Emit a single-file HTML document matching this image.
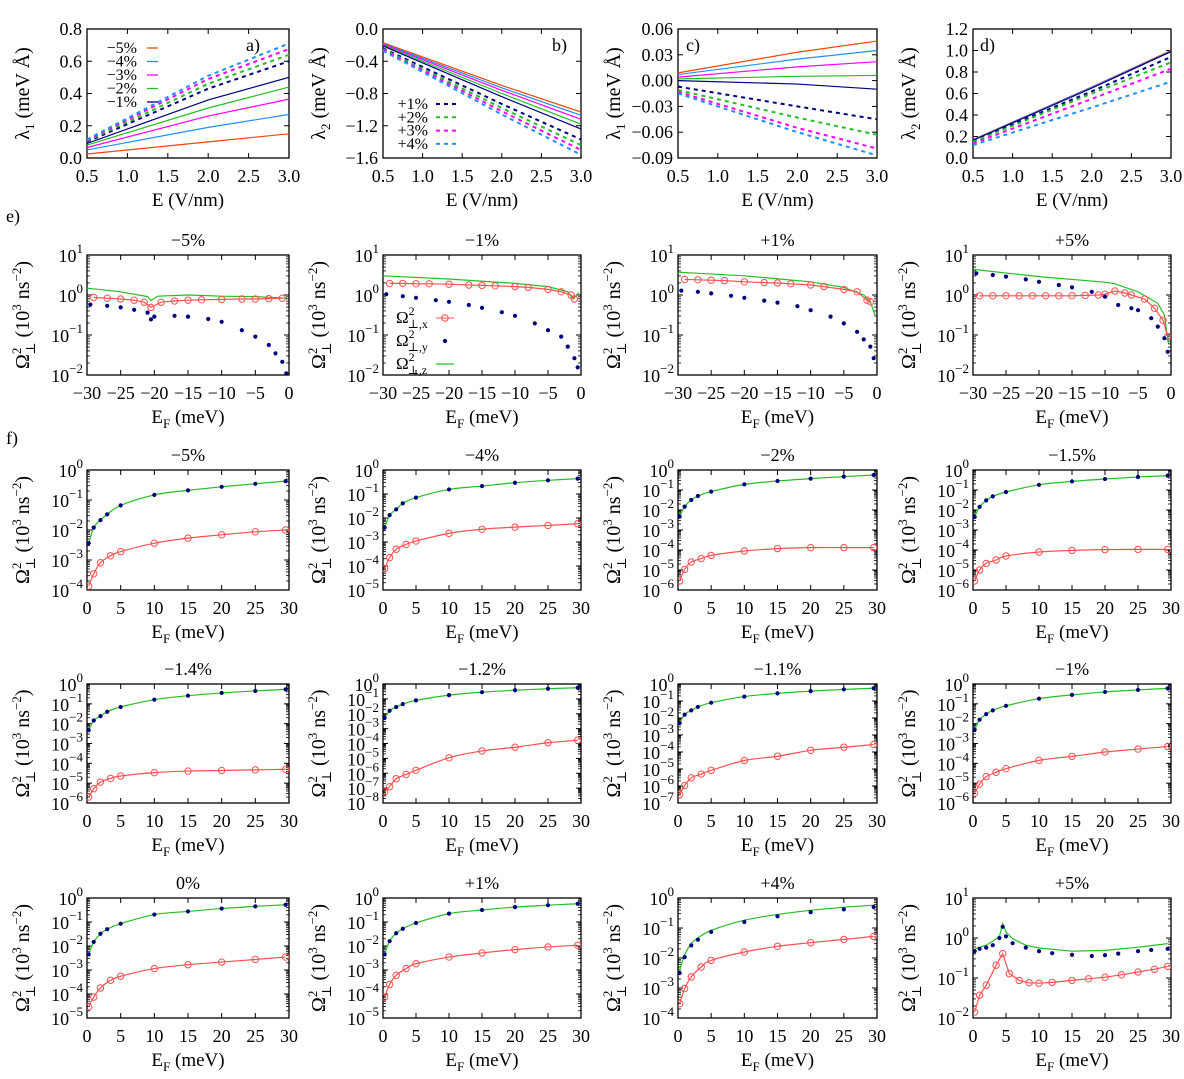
<!DOCTYPE html>
<html><head><meta charset="utf-8">
<style>
html,body{margin:0;padding:0;background:#fff;}
svg, svg text{font-family:"Liberation Serif","DejaVu Serif",serif;}
</style></head>
<body>
<svg id="fig" width="1184" height="1074" viewBox="0 0 1184 1074" xmlns="http://www.w3.org/2000/svg" font-family="Liberation Serif, serif">
<rect width="1184" height="1074" fill="#fff"/>
</svg>
<script>
// ---------- data: rows a-d ----------
const E_pts = [0.5, 2.0, 3.0];
const aSolid = [[0.025,0.10,0.15],[0.05,0.19,0.27],[0.065,0.26,0.365],[0.08,0.31,0.44],[0.09,0.36,0.50]];
const aDashed = [[0.10,0.43,0.60],[0.105,0.46,0.64],[0.11,0.49,0.675],[0.115,0.51,0.71]];
const bSolid = [[-0.17,-0.70,-1.03],[-0.18,-0.73,-1.07],[-0.19,-0.76,-1.12],[-0.20,-0.80,-1.18],[-0.21,-0.84,-1.24]];
const bDashed = [[-0.24,-0.93,-1.37],[-0.25,-0.98,-1.44],[-0.26,-1.02,-1.50],[-0.27,-1.06,-1.56]];
const cSolid = [[0.009,0.033,0.046],[0.007,0.025,0.035],[0.004,0.016,0.022],[0.002,0.005,0.006],[0.0,-0.004,-0.010]];
const cDashed = [[-0.007,-0.030,-0.045],[-0.011,-0.043,-0.063],[-0.013,-0.055,-0.079],[-0.015,-0.060,-0.087]];
const dSolid = [[0.17,0.66,1.0],[0.17,0.66,0.995],[0.168,0.655,0.993],[0.166,0.652,0.99],[0.165,0.65,0.99]];
const dDashed = [[0.16,0.62,0.94],[0.15,0.60,0.89],[0.135,0.55,0.83],[0.12,0.47,0.71]];
const solidLabels = ["\u22125%","\u22124%","\u22123%","\u22122%","\u22121%"];
const dashedLabels = ["+1%","+2%","+3%","+4%"];
const solidColors = ["#ff4500","#1e90ff","#ff00ff","#22c022","#000080"];
const dashedColors = ["#000080","#22c022","#ff00ff","#1e90ff"];

// ---------- data: row e (log10 values) ----------
const eM5_gx=[-30,-25,-21,-20.5,-19.5,-15,-10,-5,-0.3], eM5_g=[0.17,0.08,-0.04,-0.14,-0.03,0.0,-0.03,-0.04,-0.08];
const eM5_rx=[-29,-27,-25,-23,-21.5,-20.5,-19,-17,-15,-13,-10,-7,-5,-3,-1], eM5_r=[-0.06,-0.08,-0.10,-0.13,-0.18,-0.31,-0.18,-0.15,-0.13,-0.12,-0.11,-0.10,-0.10,-0.09,-0.08];
const eM5_bx=[-29.5,-27,-25,-23,-21,-20.5,-20,-17,-15,-12,-10,-7,-5,-3,-2,-1,-0.4], eM5_b=[-0.24,-0.27,-0.31,-0.37,-0.44,-0.61,-0.54,-0.52,-0.54,-0.60,-0.67,-0.88,-1.04,-1.25,-1.46,-1.67,-1.96];
const eM1_gx=[-30,-20,-10,-5,-2,-1.2,-0.3], eM1_g=[0.48,0.40,0.29,0.21,0.08,-0.10,0.06];
const eM1_rx=[-29,-27,-25,-23,-20,-17,-15,-13,-10,-8,-5,-3,-1.5,-1], eM1_r=[0.29,0.29,0.28,0.28,0.27,0.25,0.24,0.23,0.21,0.19,0.14,0.08,0.0,-0.10];
const eM1_bx=[-29.5,-27,-25,-22,-20,-17,-15,-12,-10,-7,-5,-3,-2,-1,-0.5], eM1_b=[0.02,-0.03,-0.07,-0.13,-0.17,-0.25,-0.32,-0.43,-0.52,-0.71,-0.88,-1.04,-1.29,-1.58,-1.81];
const eP1_gx=[-30,-20,-10,-5,-2,-1,-0.3], eP1_g=[0.57,0.48,0.33,0.19,0.0,-0.17,-0.50];
const eP1_rx=[-29,-27,-25,-23,-20,-17,-15,-13,-10,-8,-5,-3,-1.5,-1], eP1_r=[0.39,0.38,0.37,0.36,0.33,0.31,0.30,0.28,0.25,0.21,0.14,0.08,-0.13,-0.17];
const eP1_bx=[-29.5,-27,-25,-22,-20,-17,-15,-12,-10,-7,-5,-3,-2,-1,-0.5], eP1_b=[0.11,0.08,0.04,-0.02,-0.07,-0.14,-0.19,-0.28,-0.38,-0.54,-0.71,-0.92,-1.11,-1.29,-1.58];
const eP5_gx=[-30,-20,-10,-8.5,-5,-2,-1,-0.4], eP5_g=[0.64,0.46,0.32,0.28,0.08,-0.21,-0.50,-1.21];
const eP5_rx=[-29,-27,-25,-23,-21,-19,-17,-15,-13,-11,-10,-8.5,-7,-6,-4,-2.5,-1.2,-0.5], eP5_r=[-0.02,-0.02,-0.02,-0.02,-0.02,-0.02,-0.02,-0.02,-0.01,0.0,0.02,0.10,0.05,0.0,-0.10,-0.33,-0.63,-1.04];
const eP5_bx=[-29.5,-27,-25,-22,-20,-17,-15,-12,-10,-8,-6,-5,-3,-2,-1,-0.5], eP5_b=[0.54,0.50,0.46,0.39,0.33,0.25,0.19,0.08,-0.04,-0.25,-0.33,-0.38,-0.58,-0.79,-1.08,-1.42];

// ---------- data: row f (log10 values) ----------
const fX = [0.25,1,2,3,5,10,15,20,25,29.5];
const fXr = [0.25,1,2,3.5,5,10,15,20,25,29.5];
const fM5_b=[-2.44,-1.92,-1.67,-1.48,-1.18,-0.83,-0.68,-0.56,-0.46,-0.37], fM5_r=[-3.87,-3.46,-3.09,-2.86,-2.72,-2.44,-2.27,-2.16,-2.06,-2.00];
const fM4_b=[-2.40,-1.88,-1.64,-1.39,-1.15,-0.81,-0.67,-0.53,-0.43,-0.36], fM4_r=[-4.11,-3.65,-3.30,-3.10,-2.96,-2.64,-2.47,-2.38,-2.31,-2.24];
const fM2_b=[-2.33,-1.83,-1.50,-1.30,-1.08,-0.72,-0.55,-0.43,-0.33,-0.25], fM2_r=[-5.55,-4.97,-4.60,-4.43,-4.27,-4.05,-3.93,-3.88,-3.88,-3.88];
const fM15_b=[-2.35,-1.84,-1.52,-1.32,-1.10,-0.74,-0.57,-0.45,-0.35,-0.28], fM15_r=[-5.55,-5.00,-4.67,-4.50,-4.30,-4.10,-4.02,-3.98,-3.97,-3.97];
const fM14_b=[-2.33,-1.84,-1.62,-1.40,-1.16,-0.79,-0.59,-0.45,-0.35,-0.27], fM14_r=[-5.70,-5.28,-4.95,-4.76,-4.64,-4.47,-4.39,-4.36,-4.33,-4.30];
const fM12_b=[-2.28,-1.80,-1.55,-1.35,-1.10,-0.75,-0.55,-0.42,-0.32,-0.25], fM12_r=[-7.26,-6.90,-6.37,-6.08,-5.80,-4.96,-4.50,-4.25,-3.95,-3.78];
const fM11_b=[-2.29,-1.80,-1.55,-1.35,-1.10,-0.74,-0.55,-0.42,-0.32,-0.25], fM11_r=[-6.50,-5.97,-5.52,-5.30,-5.08,-4.50,-4.25,-3.90,-3.72,-3.56];
const fM1_b=[-2.30,-1.80,-1.52,-1.33,-1.10,-0.74,-0.55,-0.40,-0.30,-0.22], fM1_r=[-5.50,-5.05,-4.67,-4.45,-4.27,-3.85,-3.65,-3.43,-3.28,-3.15];
const f0_b=[-2.35,-1.83,-1.49,-1.30,-1.07,-0.69,-0.56,-0.44,-0.35,-0.28], f0_r=[-4.54,-4.13,-3.75,-3.43,-3.26,-2.94,-2.78,-2.67,-2.56,-2.46];
const fP1_b=[-2.35,-1.80,-1.47,-1.28,-1.04,-0.65,-0.50,-0.38,-0.30,-0.24], fP1_r=[-4.13,-3.60,-3.22,-2.94,-2.74,-2.46,-2.29,-2.15,-2.04,-1.97];
const fP4_b=[-2.50,-1.97,-1.58,-1.39,-1.13,-0.80,-0.61,-0.47,-0.38,-0.30], fP4_g=[-2.40,-1.90,-1.52,-1.33,-1.08,-0.74,-0.55,-0.41,-0.31,-0.24], fP4_r=[-3.52,-3.02,-2.63,-2.30,-2.08,-1.80,-1.61,-1.49,-1.38,-1.28];
const fP5_bx=[0.25,1,2,3,4,4.5,5,6,8,10,12,15,18,20,22,25,27,29.5], fP5_b=[-0.33,-0.27,-0.24,-0.18,0.0,0.28,0.04,-0.13,-0.24,-0.33,-0.38,-0.42,-0.45,-0.43,-0.39,-0.33,-0.30,-0.27];
const fP5_gx=[0.25,2,4,4.5,5,6,8,10,15,20,25,29.5], fP5_g=[-0.27,-0.18,0.03,0.36,0.15,-0.02,-0.18,-0.25,-0.33,-0.31,-0.23,-0.14];
const fP5_rx=[0.25,1,2,3.5,4.5,5.5,7,8.5,10,12,15,17.5,20,22.5,25,27.5,29.5], fP5_r=[-1.85,-1.43,-1.18,-0.68,-0.39,-0.89,-1.06,-1.12,-1.13,-1.11,-1.06,-1.02,-0.98,-0.92,-0.85,-0.78,-0.71];

// ---------- drawing ----------
const NS='http://www.w3.org/2000/svg';
const svg=document.getElementById('fig');
const FONT='Liberation Serif, DejaVu Serif, serif';
function mk(tag, attrs, parent){const e=document.createElementNS(NS,tag);for(const k in attrs)e.setAttribute(k,attrs[k]);if(tag==='text')e.setAttribute('font-family',FONT);(parent||svg).appendChild(e);return e;}
const COLS=[[87,289],[383,581],[678,877],[973,1171]];
const ROWS={a:[29,158],e:[255,375],f1:[470,590],f2:[684,803],f3:[898,1018]};
const RED="#ff5050", NAVY="#00007a", GREEN="#22c022";

function fmt(v,d){const s=Math.abs(v).toFixed(d);return (v<-1e-9?"\u2212":"")+s;}

function makePanel(name,col,row,o){
  const [x0,x1]=COLS[col],[y0,y1]=ROWS[row];
  const g=mk('g',{});
  
  
  const sx=v=>x0+(v-o.xd[0])/(o.xd[1]-o.xd[0])*(x1-x0);
  const sy=v=>y1-(v-o.yd[0])/(o.yd[1]-o.yd[0])*(y1-y0);
  const box=mk('rect',{x:x0,y:y0,width:x1-x0,height:y1-y0,fill:'none',stroke:'#000','stroke-width':1.3},g);
  
  
  const xt=mk('g',{'font-size':18,'text-anchor':'middle'},g);
  
  
  for(const v of o.xt){const X=sx(v);
    mk('line',{x1:X,x2:X,y1:y1,y2:y1-5,stroke:'#000'},xt);mk('line',{x1:X,x2:X,y1:y0,y2:y0+5,stroke:'#000'},xt);
    const t=mk('text',{x:X,y:y1+24},xt);t.textContent=o.xf(v);}
  const yt=mk('g',{'font-size':18,'text-anchor':'end'},g);
  
  
  for(const v of o.yt){const Y=sy(v);
    mk('line',{x1:x0,x2:x0+5,y1:Y,y2:Y,stroke:'#000'},yt);mk('line',{x1:x1,x2:x1-5,y1:Y,y2:Y,stroke:'#000'},yt);
    if(o.log){const t=mk('text',{x:x0-4,y:Y+7},yt);t.textContent='10';const s=mk('tspan',{dy:-9,'font-size':13},t);s.textContent=(v<0?'\u2212':'')+Math.abs(v);}
    else{const t=mk('text',{x:x0-5,y:Y+6},yt);t.textContent=o.yf(v);}
  }
  if(o.log){for(let d=o.yd[0];d<o.yd[1];d++)for(let k=2;k<10;k++){const Y=sy(d+Math.log10(k));
    mk('line',{x1:x0,x2:x0+3,y1:Y,y2:Y,stroke:'#000','stroke-width':0.8},yt);mk('line',{x1:x1,x2:x1-3,y1:Y,y2:Y,stroke:'#000','stroke-width':0.8},yt);}}
  if(o.title){const t=mk('text',{x:(x0+x1)/2,y:y0-9,'font-size':18,'text-anchor':'middle'},g);t.textContent=o.title;
    
    }
  const xl=mk('text',{x:(x0+x1)/2,y:y1+48,'font-size':19,'text-anchor':'middle'},g);
  
  
  if(o.xlab==='E'){xl.textContent='E (V/nm)';}
  else{xl.appendChild(document.createTextNode('E'));const s=mk('tspan',{dy:5,'font-size':13},xl);s.textContent='F';const r=mk('tspan',{dy:-5},xl);r.textContent=' (meV)';}
  const yl=mk('text',{transform:`translate(${x0-58},${(y0+y1)/2}) rotate(-90)`,'font-size':20,'text-anchor':'middle'},g);
  
  
  if(o.ylab==='O'){yl.appendChild(document.createTextNode('\u03a9'));
    let s=mk('tspan',{dy:-8,'font-size':13},yl);s.textContent='2';
    s=mk('tspan',{dx:-7,dy:14,'font-size':13},yl);s.textContent='\u22a5';
    s=mk('tspan',{dy:-6},yl);s.textContent=' (10';
    s=mk('tspan',{dy:-8,'font-size':13},yl);s.textContent='3';
    s=mk('tspan',{dy:8},yl);s.textContent=' ns';
    s=mk('tspan',{dy:-8,'font-size':13},yl);s.textContent='\u22122';
    s=mk('tspan',{dy:8},yl);s.textContent=')';}
  else{yl.appendChild(document.createTextNode('\u03bb'));let s=mk('tspan',{dy:5,'font-size':13},yl);s.textContent=o.ylab;s=mk('tspan',{dy:-5},yl);s.textContent=' (meV \u00c5)';}
  const cid='c'+name;const cp=mk('clipPath',{id:cid},g);mk('rect',{x:x0,y:y0,width:x1-x0,height:y1-y0},cp);
  const data=mk('g',{'clip-path':`url(#${cid})`},g);
  
  
  for(const s of o.series){
    const pts=s.x.map((v,i)=>[sx(v),sy(s.y[i])]);
    if(s.kind==='line'||s.kind==='dash'||s.kind==='circles'){
      let d;
      if(s.smooth){d='M'+pts[0][0]+','+pts[0][1];for(let i=0;i<pts.length-1;i++){const p0=pts[Math.max(0,i-1)],p1=pts[i],p2=pts[i+1],p3=pts[Math.min(pts.length-1,i+2)];
        d+=` C${p1[0]+(p2[0]-p0[0])/6},${p1[1]+(p2[1]-p0[1])/6} ${p2[0]-(p3[0]-p1[0])/6},${p2[1]-(p3[1]-p1[1])/6} ${p2[0]},${p2[1]}`;}}
      else d='M'+pts.map(p=>p[0]+','+p[1]).join(' L');
      const pa=mk('path',{d:d,fill:'none',stroke:s.color,'stroke-width':s.kind==='dash'?2:1.2,'stroke-dasharray':s.kind==='dash'?'4,4':'none'},data);
      
      
    }
    if(s.kind==='circles'){for(const p of pts){const c=mk('circle',{cx:p[0],cy:p[1],r:3.2,fill:'none',stroke:s.color,'stroke-width':1},data);
      
      }}
    if(s.kind==='dots'){for(const p of pts){const c=mk('circle',{cx:p[0],cy:p[1],r:2.1,fill:s.color},data);
      
      }}
  }
  return {sx,sy,g};
}

const linX=[0.5,1.0,1.5,2.0,2.5,3.0];
function lamSeries(sol,dash){const out=[];sol.forEach((y,i)=>out.push({x:E_pts,y:y,kind:'line',color:solidColors[i],name:'line-'+i}));
  dash.forEach((y,i)=>out.push({x:E_pts,y:y,kind:'dash',color:dashedColors[i],name:'dash-'+i}));return out;}
function rng(a,b,s){const r=[];for(let v=a;v<=b+1e-9;v+=s)r.push(+v.toFixed(4));return r;}

makePanel('panel-a',0,'a',{xd:[0.5,3],yd:[0,0.8],xt:linX,yt:rng(0,0.8,0.2),xf:v=>v.toFixed(1),yf:v=>fmt(v,1),xlab:'E',ylab:'1',series:lamSeries(aSolid,aDashed)});
makePanel('panel-b',1,'a',{xd:[0.5,3],yd:[-1.6,0],xt:linX,yt:rng(-1.6,0,0.4),xf:v=>v.toFixed(1),yf:v=>fmt(v,1),xlab:'E',ylab:'2',series:lamSeries(bSolid,bDashed)});
makePanel('panel-c',2,'a',{xd:[0.5,3],yd:[-0.09,0.06],xt:linX,yt:rng(-0.09,0.06,0.03),xf:v=>v.toFixed(1),yf:v=>fmt(v,2),xlab:'E',ylab:'1',series:lamSeries(cSolid,cDashed)});
makePanel('panel-d',3,'a',{xd:[0.5,3],yd:[0,1.2],xt:linX,yt:rng(0,1.2,0.2),xf:v=>v.toFixed(1),yf:v=>fmt(v,1),xlab:'E',ylab:'2',series:lamSeries(dSolid,dDashed)});

function T(x,y,s,size,anchor,name){const t=mk('text',{x:x,y:y,'font-size':size||18,'text-anchor':anchor||'start'});t.textContent=s;
  
  return t;}
T(246,51,'a)',18,'start','panel-label-a');T(552,51,'b)',18,'start','panel-label-b');
T(686,51,'c)',18,'start','panel-label-c');T(980,51,'d)',18,'start','panel-label-d');
T(6,222,'e)',18,'start','row-label-e');T(6,444,'f)',18,'start','row-label-f');
solidLabels.forEach((l,i)=>{const y=48+i*13.5;T(137,y+5,l,16,'end','legend-entry');
  const ln=mk('line',{x1:147,x2:158,y1:y,y2:y,stroke:solidColors[i],'stroke-width':1.3});
  
  });
dashedLabels.forEach((l,i)=>{const y=104+i*13.3;T(428,y+5,l,16,'end','legend-entry');
  const ln=mk('line',{x1:436,x2:458,y1:y,y2:y,stroke:dashedColors[i],'stroke-width':2,'stroke-dasharray':'4,4'});
  
  });

const eXt=rng(-30,0,5);
function eSer(gx,g,rx,r,bx,b){return [{x:gx,y:g,kind:'line',color:GREEN,name:'omega-z'},{x:rx,y:r,kind:'circles',color:RED,name:'omega-x'},{x:bx,y:b,kind:'dots',color:NAVY,name:'omega-y'}];}
const eOpts=(t,s)=>({xd:[-30,0],yd:[-2,1],log:true,xt:eXt,yt:[-2,-1,0,1],xf:v=>fmt(v,0),title:t,xlab:'F',ylab:'O',series:s});
makePanel('panel-e-m5',0,'e',eOpts('\u22125%',eSer(eM5_gx,eM5_g,eM5_rx,eM5_r,eM5_bx,eM5_b)));
makePanel('panel-e-m1',1,'e',eOpts('\u22121%',eSer(eM1_gx,eM1_g,eM1_rx,eM1_r,eM1_bx,eM1_b)));
makePanel('panel-e-p1',2,'e',eOpts('+1%',eSer(eP1_gx,eP1_g,eP1_rx,eP1_r,eP1_bx,eP1_b)));
makePanel('panel-e-p5',3,'e',eOpts('+5%',eSer(eP5_gx,eP5_g,eP5_rx,eP5_r,eP5_bx,eP5_b)));
['x','y','z'].forEach((c,i)=>{const y=318+i*23;const t=mk('text',{x:396,y:y+5,'font-size':17});
  
  
  t.appendChild(document.createTextNode('\u03a9'));let s=mk('tspan',{dy:-8,'font-size':12},t);s.textContent='2';
  s=mk('tspan',{dx:-7,dy:13,'font-size':12},t);s.textContent='\u22a5,'+c;
  if(c==='x'){mk('line',{x1:436,x2:454,y1:y,y2:y,stroke:RED});mk('circle',{cx:445,cy:y,r:3.2,fill:'none',stroke:RED});}
  if(c==='y'){mk('circle',{cx:445,cy:y,r:2.1,fill:NAVY});}
  if(c==='z'){mk('line',{x1:436,x2:454,y1:y,y2:y,stroke:GREEN,'stroke-width':1.2});}
});

const fXt=rng(0,30,5);
function fSer(gx,g,bx,b,rx,r){return [{x:gx,y:g,kind:'line',color:GREEN,name:'omega-z',smooth:true},{x:rx,y:r,kind:'circles',color:RED,name:'omega-x',smooth:true},{x:bx,y:b,kind:'dots',color:NAVY,name:'omega-y'}];}
const fOpts=(t,lo,hi,s)=>({xd:[0,30],yd:[lo,hi],log:true,xt:fXt,yt:rng(lo,hi,1),xf:v=>String(v),title:t,xlab:'F',ylab:'O',series:s});
makePanel('panel-f-m5',0,'f1',fOpts('\u22125%',-4,0,fSer(fX,fM5_b,fX,fM5_b,fXr,fM5_r)));
makePanel('panel-f-m4',1,'f1',fOpts('\u22124%',-5,0,fSer(fX,fM4_b,fX,fM4_b,fXr,fM4_r)));
makePanel('panel-f-m2',2,'f1',fOpts('\u22122%',-6,0,fSer(fX,fM2_b,fX,fM2_b,fXr,fM2_r)));
makePanel('panel-f-m1p5',3,'f1',fOpts('\u22121.5%',-6,0,fSer(fX,fM15_b,fX,fM15_b,fXr,fM15_r)));
makePanel('panel-f-m1p4',0,'f2',fOpts('\u22121.4%',-6,0,fSer(fX,fM14_b,fX,fM14_b,fXr,fM14_r)));
makePanel('panel-f-m1p2',1,'f2',fOpts('\u22121.2%',-8,0,fSer(fX,fM12_b,fX,fM12_b,fXr,fM12_r)));
makePanel('panel-f-m1p1',2,'f2',fOpts('\u22121.1%',-7,0,fSer(fX,fM11_b,fX,fM11_b,fXr,fM11_r)));
makePanel('panel-f-m1',3,'f2',fOpts('\u22121%',-6,0,fSer(fX,fM1_b,fX,fM1_b,fXr,fM1_r)));
makePanel('panel-f-0',0,'f3',fOpts('0%',-5,0,fSer(fX,f0_b,fX,f0_b,fXr,f0_r)));
makePanel('panel-f-p1',1,'f3',fOpts('+1%',-5,0,fSer(fX,fP1_b,fX,fP1_b,fXr,fP1_r)));
makePanel('panel-f-p4',2,'f3',fOpts('+4%',-4,0,fSer(fX,fP4_g,fX,fP4_b,fXr,fP4_r)));
makePanel('panel-f-p5',3,'f3',fOpts('+5%',-2,1,[{x:fP5_gx,y:fP5_g,kind:'line',color:GREEN,name:'omega-z'},{x:fP5_rx,y:fP5_r,kind:'circles',color:RED,name:'omega-x'},{x:fP5_bx,y:fP5_b,kind:'dots',color:NAVY,name:'omega-y'}]));
</script>
</body></html>
